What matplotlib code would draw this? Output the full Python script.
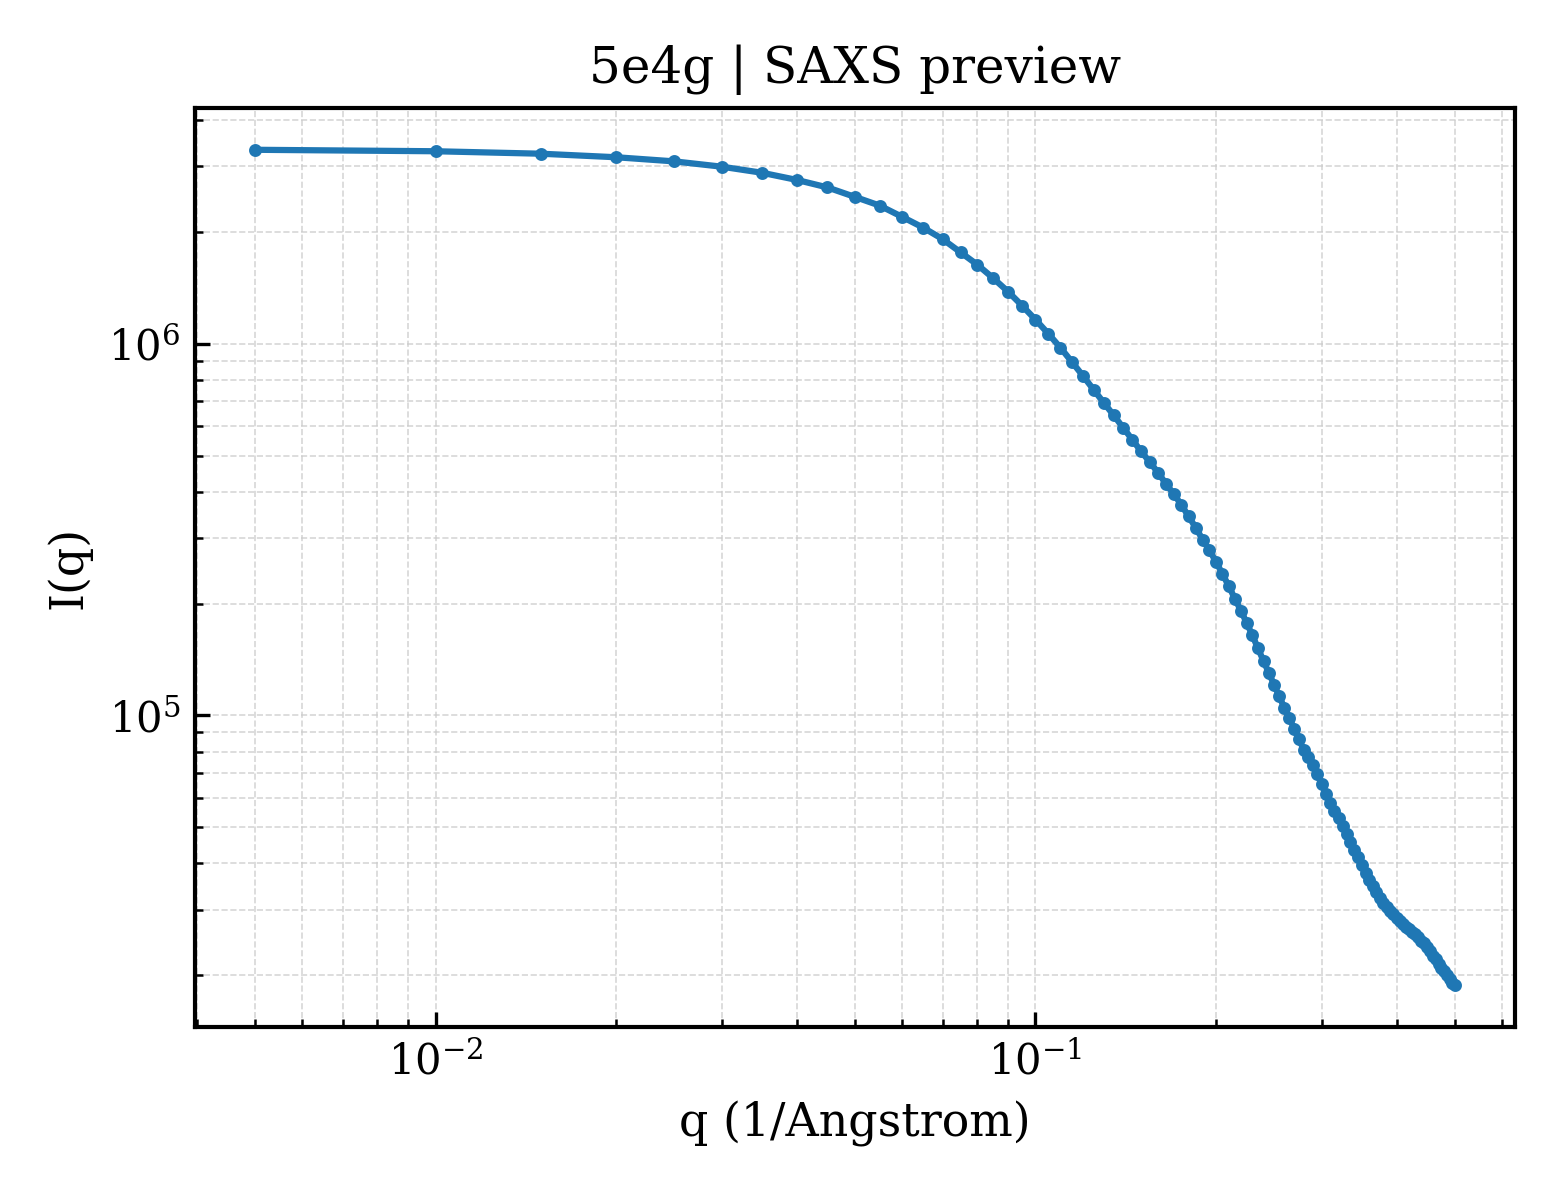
import matplotlib
matplotlib.use("Agg")
import matplotlib.pyplot as plt

plt.rcParams['font.family'] = 'DejaVu Serif'

# q grid: 0.005 ... 0.5 (1/Angstrom)
q = [0.005 * k for k in range(1, 101)]

I = [
    3.32e6, 3.29e6, 3.24e6, 3.17e6, 3.09e6, 2.99e6, 2.88e6, 2.755e6, 2.63e6, 2.48e6,
    2.35e6, 2.19e6, 2.05e6, 1.91e6, 1.76e6, 1.63e6, 1.50e6, 1.38e6, 1.265e6, 1.16e6,
    1.064e6, 9.76e5, 8.93e5, 8.19e5, 7.52e5, 6.93e5, 6.42e5, 5.94e5, 5.52e5, 5.13e5,
    4.81e5, 4.50e5, 4.20e5, 3.94e5, 3.69e5, 3.43e5, 3.20e5, 2.97e5, 2.78e5, 2.59e5,
    2.40e5, 2.23e5, 2.06e5, 1.915e5, 1.773e5, 1.641e5, 1.514e5, 1.401e5, 1.301e5, 1.208e5,
    1.125e5, 1.047e5, 9.85e4, 9.20e4, 8.62e4, 8.10e4, 7.71e4, 7.34e4, 6.94e4, 6.54e4,
    6.15e4, 5.81e4, 5.55e4, 5.29e4, 5.05e4, 4.79e4, 4.56e4, 4.35e4, 4.16e4, 3.96e4,
    3.78e4, 3.62e4, 3.48e4, 3.35e4, 3.24e4, 3.14e4, 3.06e4, 2.98e4, 2.92e4, 2.86e4,
    2.81e4, 2.75e4, 2.70e4, 2.66e4, 2.62e4, 2.58e4, 2.53e4, 2.48e4, 2.44e4, 2.38e4,
    2.32e4, 2.26e4, 2.21e4, 2.15e4, 2.10e4, 2.05e4, 2.00e4, 1.96e4, 1.91e4, 1.88e4,
]

fig, ax = plt.subplots(figsize=(5.2, 4.0), dpi=300)
fig.subplots_adjust(left=0.125, right=0.971, bottom=0.144, top=0.91)

ax.plot(q, I, marker='o', markersize=2.1, linewidth=1.5, color='#1f77b4')
ax.set_xscale('log')
ax.set_yscale('log')

ax.set_xlabel('q (1/Angstrom)', fontsize=11)
ax.set_ylabel('I(q)', fontsize=11)
ax.set_title('5e4g | SAXS preview', fontsize=12)

ax.grid(True, which='both', linestyle='--', linewidth=0.4, color='#cccccc', alpha=0.8)
ax.tick_params(which='both', direction='in', labelsize=10)
for s in ax.spines.values():
    s.set_linewidth(1.0)

fig.savefig('out.png', dpi=300)
